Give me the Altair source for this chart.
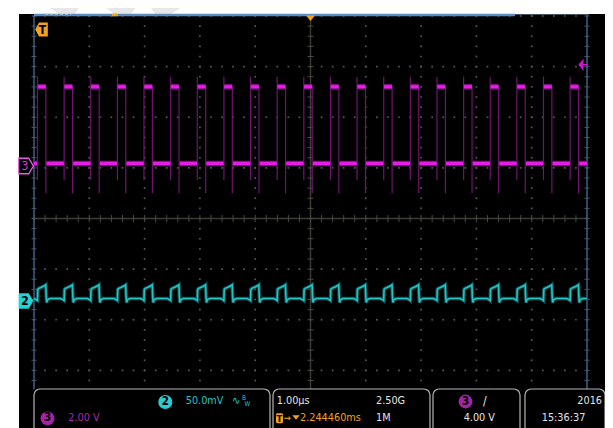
import altair as alt
import numpy as np
import pandas as pd

# Channel 3 (magenta, 2.00 V/div): rising-edge times in microseconds
RISE_US = [-4.937, -4.455, -3.974, -3.492, -3.011, -2.529, -2.047, -1.566,
           -1.084, -0.603, -0.121, 0.361, 0.842, 1.324, 1.805, 2.287,
           2.769, 3.250, 3.732, 4.213, 4.695]
HIGH_US = 0.152          # width of the high part of each pulse
CH3_LOW_V = 0.10
CH3_HIGH_V = 3.13
CH3_PEAK_V = 3.53        # overshoot on the rising edge
CH3_DIP_V = -0.55        # dip just before the rising edge
CH3_UNDER_V = -1.08      # undershoot on the falling edge

# Channel 2 (cyan, 50.0 mV/div): one cycle, time after the rising edge (us) and mV
CH2_DT_US = [0.000, 0.006, 0.025, 0.060, 0.100, 0.140, 0.150, 0.158, 0.166, 0.185, 0.230, 0.420, 0.465]
CH2_MV = [0.5, 11.5, 12.5, 13.3, 14.4, 15.6, 16.0, 4.0, -1.5, 1.5, 2.5, 2.5, 1.2]
CH2_IDLE_MV = 2.5

# settings shown in the readout
CH3_V_PER_DIV = 2.0
CH2_MV_PER_DIV = 50.0
TRIG_LEVEL_V = 4.00
CH3_POS_DIV = 1.037      # ground marker positions (divisions from centre)
CH2_POS_DIV = -1.63
T_MIN, T_MAX = -5.0, 5.0  # 1.00 us/div, 10 divisions
D_MIN, D_MAX = -4.0, 4.0

READOUT_CH2 = "50.0mV"
READOUT_CH3 = "2.00 V"
READOUT_TIME = "1.00µs"
READOUT_RATE = "2.50G"
READOUT_POS = "2.244460ms"
READOUT_LEN = "1M"
READOUT_TRIG = "4.00 V"
READOUT_YEAR = "2016"
READOUT_CLOCK = "15:36:37"

# ---------------- build tables ----------------
def d3(v):
    return v / CH3_V_PER_DIV + CH3_POS_DIV


def d2(mv):
    return mv / CH2_MV_PER_DIV + CH2_POS_DIV


flat_rows = []
prev = T_MIN
for r in RISE_US:
    f = r + HIGH_US
    flat_rows.append(dict(t0=prev, t1=r - 0.004, d=d3(CH3_LOW_V)))
    flat_rows.append(dict(t0=r + 0.004, t1=min(f, T_MAX), d=d3(CH3_HIGH_V)))
    prev = f + 0.012
if prev < T_MAX:
    flat_rows.append(dict(t0=prev, t1=T_MAX, d=d3(CH3_LOW_V)))
ch3_flat = pd.DataFrame(flat_rows)

edge_rows = []
for r in RISE_US:
    edge_rows.append(dict(t=r, d0=d3(CH3_DIP_V), d1=d3(CH3_PEAK_V)))
    edge_rows.append(dict(t=r + HIGH_US, d0=d3(CH3_HIGH_V), d1=d3(CH3_UNDER_V)))
ch3_edge = pd.DataFrame(edge_rows)

pts = [(T_MIN, CH2_IDLE_MV)]
for r in RISE_US:
    for dt, mv in zip(CH2_DT_US, CH2_MV):
        if r + dt <= T_MAX:
            pts.append((r + dt, mv))
pts.append((T_MAX, CH2_IDLE_MV))
ch2 = pd.DataFrame(pts, columns=["t", "mv"])
ch2["d"] = d2(ch2["mv"])
ch2["i"] = range(len(ch2))

# graticule (5 subdivisions per division)
sub_t = np.round(np.arange(T_MIN, T_MAX + 1e-6, 0.2), 3)
sub_d = np.round(np.arange(D_MIN, D_MAX + 1e-6, 0.2), 3)
dots = []
for gx in range(-4, 5):
    if gx != 0:
        dots += [(gx, v) for v in sub_d]
for gy in range(-3, 5):
    if gy != 0:
        dots += [(v, gy) for v in sub_t]
grid_dots = pd.DataFrame(dots, columns=["t", "d"])
ticks_h = pd.DataFrame({"t": sub_t, "d": 0.0})
ticks_v = pd.DataFrame({"t": 0.0, "d": sub_d})
ticks_border = pd.DataFrame({"t": np.repeat([T_MIN, T_MAX], len(sub_d)), "d": np.tile(sub_d, 2)})

ONE = pd.DataFrame({"k": [0]})
W, H = 553, 405
xs = alt.Scale(domain=[T_MIN, T_MAX], nice=False, zero=False)
ys = alt.Scale(domain=[D_MIN, D_MAX], nice=False, zero=False)
FONT = "DejaVu Sans Condensed, sans-serif"
FS = 10.8
ORANGE = "#f4a11e"
CYAN = "#22c4c4"
MAG = "#e41ee4"
WHITE = "#e4e4e4"


def X(f):
    return alt.X(f, type="quantitative", scale=xs, axis=None)


def Y(f):
    return alt.Y(f, type="quantitative", scale=ys, axis=None)


def rule_px(x, x2, y, y2, color, width, dash=None):
    kw = dict(color=color, strokeWidth=width)
    if dash:
        kw["strokeDash"] = dash
    return alt.Chart(ONE).mark_rule(**kw).encode(
        x=alt.value(x), x2=alt.value(x2), y=alt.value(y), y2=alt.value(y2))


def txt(s, px, py, color, size=FS, align="left", weight="normal"):
    return alt.Chart(ONE).mark_text(
        text=s, align=align, baseline="middle", fontSize=size, font=FONT,
        fontWeight=weight, color=color).encode(x=alt.value(px), y=alt.value(py))


def box(x, x2, y, y2):
    return alt.Chart(ONE).mark_rect(
        fill="black", stroke="#b4b4b4", strokeWidth=1.2, cornerRadius=6).encode(
        x=alt.value(x), x2=alt.value(x2), y=alt.value(y), y2=alt.value(y2))


layers = []
# faint watermark on the white margin
layers += [
    rule_px(19, 41, -16, -2, "#e7e7e7", 17),
    rule_px(78, 97, -16, -2, "#e7e7e7", 20),
    rule_px(142, 121, -16, -2, "#e7e7e7", 18),
]
# screen background
layers.append(alt.Chart(ONE).mark_rect(color="black").encode(
    x=alt.value(-15), x2=alt.value(573), y=alt.value(-2), y2=alt.value(420)))

# graticule
layers.append(alt.Chart(grid_dots).mark_square(size=3, color="#555555", opacity=1).encode(
    x=X("t"), y=Y("d")))
layers.append(alt.Chart(ONE).mark_rule(color="#3c3d35", strokeWidth=1.4).encode(
    x=alt.X("z:Q", scale=xs, axis=None)).transform_calculate(z="0"))
layers.append(alt.Chart(ONE).mark_rule(color="#3c3d35", strokeWidth=1.4).encode(
    y=alt.Y("z:Q", scale=ys, axis=None)).transform_calculate(z="0"))
layers.append(alt.Chart(ticks_h).mark_tick(orient="vertical", size=7, thickness=1,
                                           color="#4a4a40", opacity=1).encode(x=X("t"), y=Y("d")))
layers.append(alt.Chart(ticks_v).mark_tick(orient="horizontal", size=6, thickness=1,
                                           color="#4a4a40", opacity=1).encode(x=X("t"), y=Y("d")))
layers.append(alt.Chart(ticks_border).mark_tick(orient="horizontal", size=5, thickness=1,
                                                color="#4b5866", opacity=1).encode(x=X("t"), y=Y("d")))
layers.append(alt.Chart(pd.DataFrame({"t": [T_MIN, T_MAX]})).mark_rule(
    color="#3a5a7c", strokeWidth=1.6).encode(x=X("t")))
# top record bar
layers += [
    rule_px(0, 481, -1, -1, "#5a8cc2", 2.5),
    rule_px(481, 555, -1.5, -1.5, "#46525e", 1),
    rule_px(11, 37, -2.2, -2.2, "#d8d8d8", 1.5, [3, 2]),
    rule_px(78, 84, -1, -1, ORANGE, 2.5),
]

# traces
layers.append(alt.Chart(ch2).mark_line(color="#0e5e60", strokeWidth=3.6, opacity=0.85).encode(
    x=X("t"), y=Y("d"), order="i:Q"))
layers.append(alt.Chart(ch2).mark_line(color=CYAN, strokeWidth=1.6).encode(
    x=X("t"), y=Y("d"), order="i:Q"))
layers.append(alt.Chart(ch3_edge).mark_rule(color="#701470", strokeWidth=1.2).encode(
    x=X("t"), y=Y("d0"), y2="d1"))
layers.append(alt.Chart(ch3_flat).mark_rule(color="#7c107c", strokeWidth=5.5).encode(
    x=X("t0"), x2="t1", y=Y("d")))
layers.append(alt.Chart(ch3_flat).mark_rule(color=MAG, strokeWidth=3.2).encode(
    x=X("t0"), x2="t1", y=Y("d")))

# markers
arrow_right = "M-0.95,-1L0.35,-1L0.95,0L0.35,1L-0.95,1Z"
arrow_left = "M0.9,-1L-0.35,-1L-0.9,0L-0.35,1L0.9,1Z"
pos3 = pd.DataFrame({"d": [CH3_POS_DIV]})
pos2 = pd.DataFrame({"d": [CH2_POS_DIV]})
layers.append(alt.Chart(pos3).mark_point(shape=arrow_right, size=240, filled=True, fill="black",
                                         stroke="#e060e0", strokeWidth=1.3, opacity=1).encode(
    x=alt.value(-8), y=Y("d")))
layers.append(alt.Chart(pos3).mark_text(text="3", fontSize=12, font=FONT, color="#d040d0",
                                        align="center", baseline="middle").encode(
    x=alt.value(-9), y=Y("d")))
layers.append(alt.Chart(pos2).mark_point(shape=arrow_right, size=240, filled=True,
                                         color="#22d4d4", opacity=1).encode(
    x=alt.value(-8), y=Y("d")))
layers.append(alt.Chart(pos2).mark_text(text="2", fontSize=12, font=FONT, color="black",
                                        fontWeight="bold", align="center", baseline="middle").encode(
    x=alt.value(-9), y=Y("d")))
trig = pd.DataFrame({"d": [CH3_POS_DIV + TRIG_LEVEL_V / CH3_V_PER_DIV]})
layers.append(alt.Chart(trig).mark_point(
    shape="M-0.6,0L0.25,-1L0.25,1Z M0.25,-0.14L1,-0.14L1,0.14L0.25,0.14Z",
    size=150, filled=True, color="#c41cc4", opacity=1).encode(x=alt.value(548), y=Y("d")))
layers.append(alt.Chart(pd.DataFrame({"t": [0.0]})).mark_point(
    shape="M-1,-0.6L1,-0.6L0,0.6Z", size=80, filled=True, color=ORANGE, opacity=1).encode(
    x=X("t"), y=alt.value(2.3)))
layers.append(alt.Chart(ONE).mark_point(shape=arrow_left, size=196, filled=True,
                                        color=ORANGE, opacity=1).encode(
    x=alt.value(7.5), y=alt.value(13.5)))
layers.append(txt("T", 8.5, 14, "black", size=12, align="center", weight="bold"))

# readout panel
layers.append(alt.Chart(ONE).mark_rect(color="black").encode(
    x=alt.value(-15), x2=alt.value(573), y=alt.value(373), y2=alt.value(420)))
layers += [box(0, 236, 373, 440), box(239, 396, 373, 440),
           box(399, 486, 373, 440), box(491, 571, 373, 440)]
# channel 2 / channel 3 scale
layers.append(alt.Chart(ONE).mark_circle(size=200, color="#2ccad2", opacity=1).encode(
    x=alt.value(131.3), y=alt.value(386)))
layers.append(txt("2", 131.3, 386, "black", size=11.5, align="center", weight="bold"))
layers.append(txt(READOUT_CH2, 151.7, 385, CYAN))
layers.append(txt("∿", 198, 385, CYAN, size=11))
layers.append(txt("B", 208, 381.5, CYAN, size=6.5))
layers.append(txt("W", 210.5, 388, CYAN, size=6.5))
layers.append(alt.Chart(ONE).mark_circle(size=190, color="#a424a8", opacity=1).encode(
    x=alt.value(13.5), y=alt.value(402.3)))
layers.append(txt("3", 13.5, 402.3, "black", size=11.5, align="center", weight="bold"))
layers.append(txt(READOUT_CH3, 34.3, 402, "#a82aa8"))
# timebase
layers.append(txt(READOUT_TIME, 242.7, 384.5, WHITE))
layers.append(alt.Chart(ONE).mark_rect(color=ORANGE, cornerRadius=1.5).encode(
    x=alt.value(242), x2=alt.value(249), y=alt.value(397.3), y2=alt.value(407.3)))
layers.append(txt("T", 245.5, 402.5, "black", size=9.5, align="center", weight="bold"))
layers.append(txt("→", 249.5, 402, ORANGE, size=9.5))
layers.append(alt.Chart(ONE).mark_point(shape="M-1,-0.6L1,-0.6L0,0.6Z", size=55, filled=True,
                                        color=ORANGE, opacity=1).encode(
    x=alt.value(262), y=alt.value(401.5)))
layers.append(txt(READOUT_POS, 266, 402, ORANGE))
layers.append(txt(READOUT_RATE, 342, 385, WHITE))
layers.append(txt(READOUT_LEN, 342, 402, WHITE))
# trigger
layers.append(alt.Chart(ONE).mark_circle(size=190, color="#a424a8", opacity=1).encode(
    x=alt.value(431.5), y=alt.value(385.5)))
layers.append(txt("3", 431.5, 385.5, "black", size=11.5, align="center", weight="bold"))
layers.append(txt("/", 449, 385, WHITE, size=12))
layers.append(txt(READOUT_TRIG, 461, 402, WHITE, align="right"))
# date / time
layers.append(txt(READOUT_YEAR, 568, 385, WHITE, align="right"))
layers.append(txt(READOUT_CLOCK, 507.7, 402, WHITE))

chart = alt.layer(*layers).properties(
    width=W, height=H, background="white",
    padding={"left": 26, "top": 8, "right": 18, "bottom": 7},
    autosize=alt.AutoSizeParams(type="none"),
).configure_view(stroke=None)

chart.save("out.html", embed_options={"renderer": "svg", "actions": False})
